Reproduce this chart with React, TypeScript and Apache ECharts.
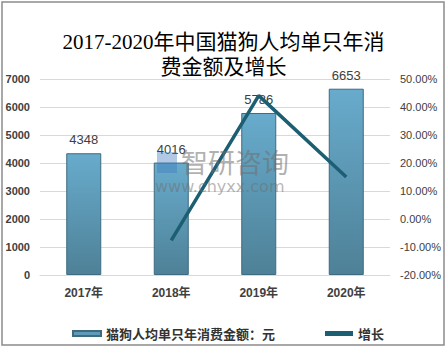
import React, { useEffect, useRef } from "react";
import * as echarts from "echarts";

const categories = ["2017年", "2018年", "2019年", "2020年"];
const spending = [4348, 4016, 5786, 6653];
const growth = [null, -7.64, 44.07, 14.98];
const leftTicks = [0, 7000, 1000];
const rightTicks = [-20, 50, 10];
const titleText = "2017-2020年中国猫狗人均单只年消\n费金额及增长";
const barName = "猫狗人均单只年消费金额：元";
const lineName = "增长";

export default function App() {
  const ref = useRef<HTMLDivElement>(null);
  useEffect(() => {
    const chart = echarts.init(ref.current!, null, { renderer: "svg" });
    chart.setOption({
      animation: false,
      backgroundColor: "#ffffff",
      title: {
        text: titleText,
        left: "center",
        top: 24,
        textStyle: {
          fontFamily: "'Liberation Serif', 'Noto Sans CJK SC', serif",
          fontSize: 21,
          fontWeight: "normal",
          color: "#000",
          lineHeight: 25,
        },
      },
      graphic: [
        {
          type: "rect",
          shape: { x: 2, y: 2, width: 442, height: 343 },
          style: { fill: "none", stroke: "#8c8c8c", lineWidth: 1.5 },
          silent: true,
        },
        {
          type: "text",
          x: 181,
          y: 148,
          style: {
            text: "智研咨询",
            font: "27px 'Noto Sans CJK SC'",
            fill: "rgba(110,110,110,0.55)",
          },
          z: 100,
          silent: true,
        },
        {
          type: "rect",
          shape: { x: 157, y: 152, width: 20, height: 21 },
          style: { fill: "rgba(60,120,190,0.4)" },
          z: 100,
          silent: true,
        },
        {
          type: "text",
          x: 155,
          y: 178,
          style: {
            text: "www.chyxx.com",
            font: "16px 'DejaVu Sans'",
            fill: "rgba(110,110,110,0.5)",
          },
          z: 100,
          silent: true,
        },
      ],
      legend: {
        top: 322,
        left: 67,
        itemGap: 50,
        itemWidth: 28,
        itemHeight: 5,
        textStyle: {
          fontFamily: "'Noto Sans CJK SC'",
          fontSize: 13,
          fontWeight: "bold",
          color: "#333",
        },
        data: [
          { name: barName, icon: "rect", itemStyle: { color: "#5f9bb9" } },
          { name: lineName, icon: "rect" },
        ],
      },
      grid: { left: 40, right: 57, top: 79, bottom: 73 },
      xAxis: {
        type: "category",
        data: categories,
        axisLine: { lineStyle: { color: "#d9d9d9" } },
        axisTick: { show: false },
        axisLabel: {
          margin: 12,
          fontSize: 12,
          fontWeight: "bold",
          color: "#404040",
          fontFamily: "'Liberation Sans', 'Noto Sans CJK SC', sans-serif",
        },
      },
      yAxis: [
        {
          type: "value",
          min: leftTicks[0],
          max: leftTicks[1],
          interval: leftTicks[2],
          axisLine: { show: false },
          axisTick: { show: false },
          splitLine: { lineStyle: { color: "#d9d9d9" } },
          axisLabel: {
            margin: 10,
            fontSize: 11,
            fontWeight: "bold",
            color: "#404040",
            fontFamily: "'Liberation Sans', sans-serif",
            formatter: (v: number) => String(v),
          },
        },
        {
          type: "value",
          min: rightTicks[0],
          max: rightTicks[1],
          interval: rightTicks[2],
          axisLine: { show: false },
          axisTick: { show: false },
          splitLine: { show: false },
          axisLabel: {
            margin: 10,
            fontSize: 11,
            color: "#404040",
            fontFamily: "'Liberation Sans', sans-serif",
            formatter: (v: number) => v.toFixed(2) + "%",
          },
        },
      ],
      series: [
        {
          name: barName,
          type: "bar",
          data: spending,
          barWidth: 35,
          itemStyle: {
            color: new echarts.graphic.LinearGradient(0, 0, 0, 1, [
              { offset: 0, color: "#68abcc" },
              { offset: 1, color: "#4e8197" },
            ]),
            borderColor: "#3d6b80",
            borderWidth: 1,
          },
          label: {
            show: true,
            position: "top",
            distance: 7,
            fontSize: 13,
            color: "#404040",
            fontFamily: "'Liberation Sans', sans-serif",
          },
        },
        {
          name: lineName,
          type: "line",
          yAxisIndex: 1,
          data: growth,
          showSymbol: false,
          symbol: "none",
          lineStyle: { color: "#1c5e72", width: 3.5 },
          itemStyle: { color: "#1c5e72" },
          z: 5,
        },
      ],
    });
    return () => chart.dispose();
  }, []);
  return (
    <div
      ref={ref}
      style={{ position: "absolute", left: 0, top: 0, width: 447, height: 348 }}
    />
  );
}
